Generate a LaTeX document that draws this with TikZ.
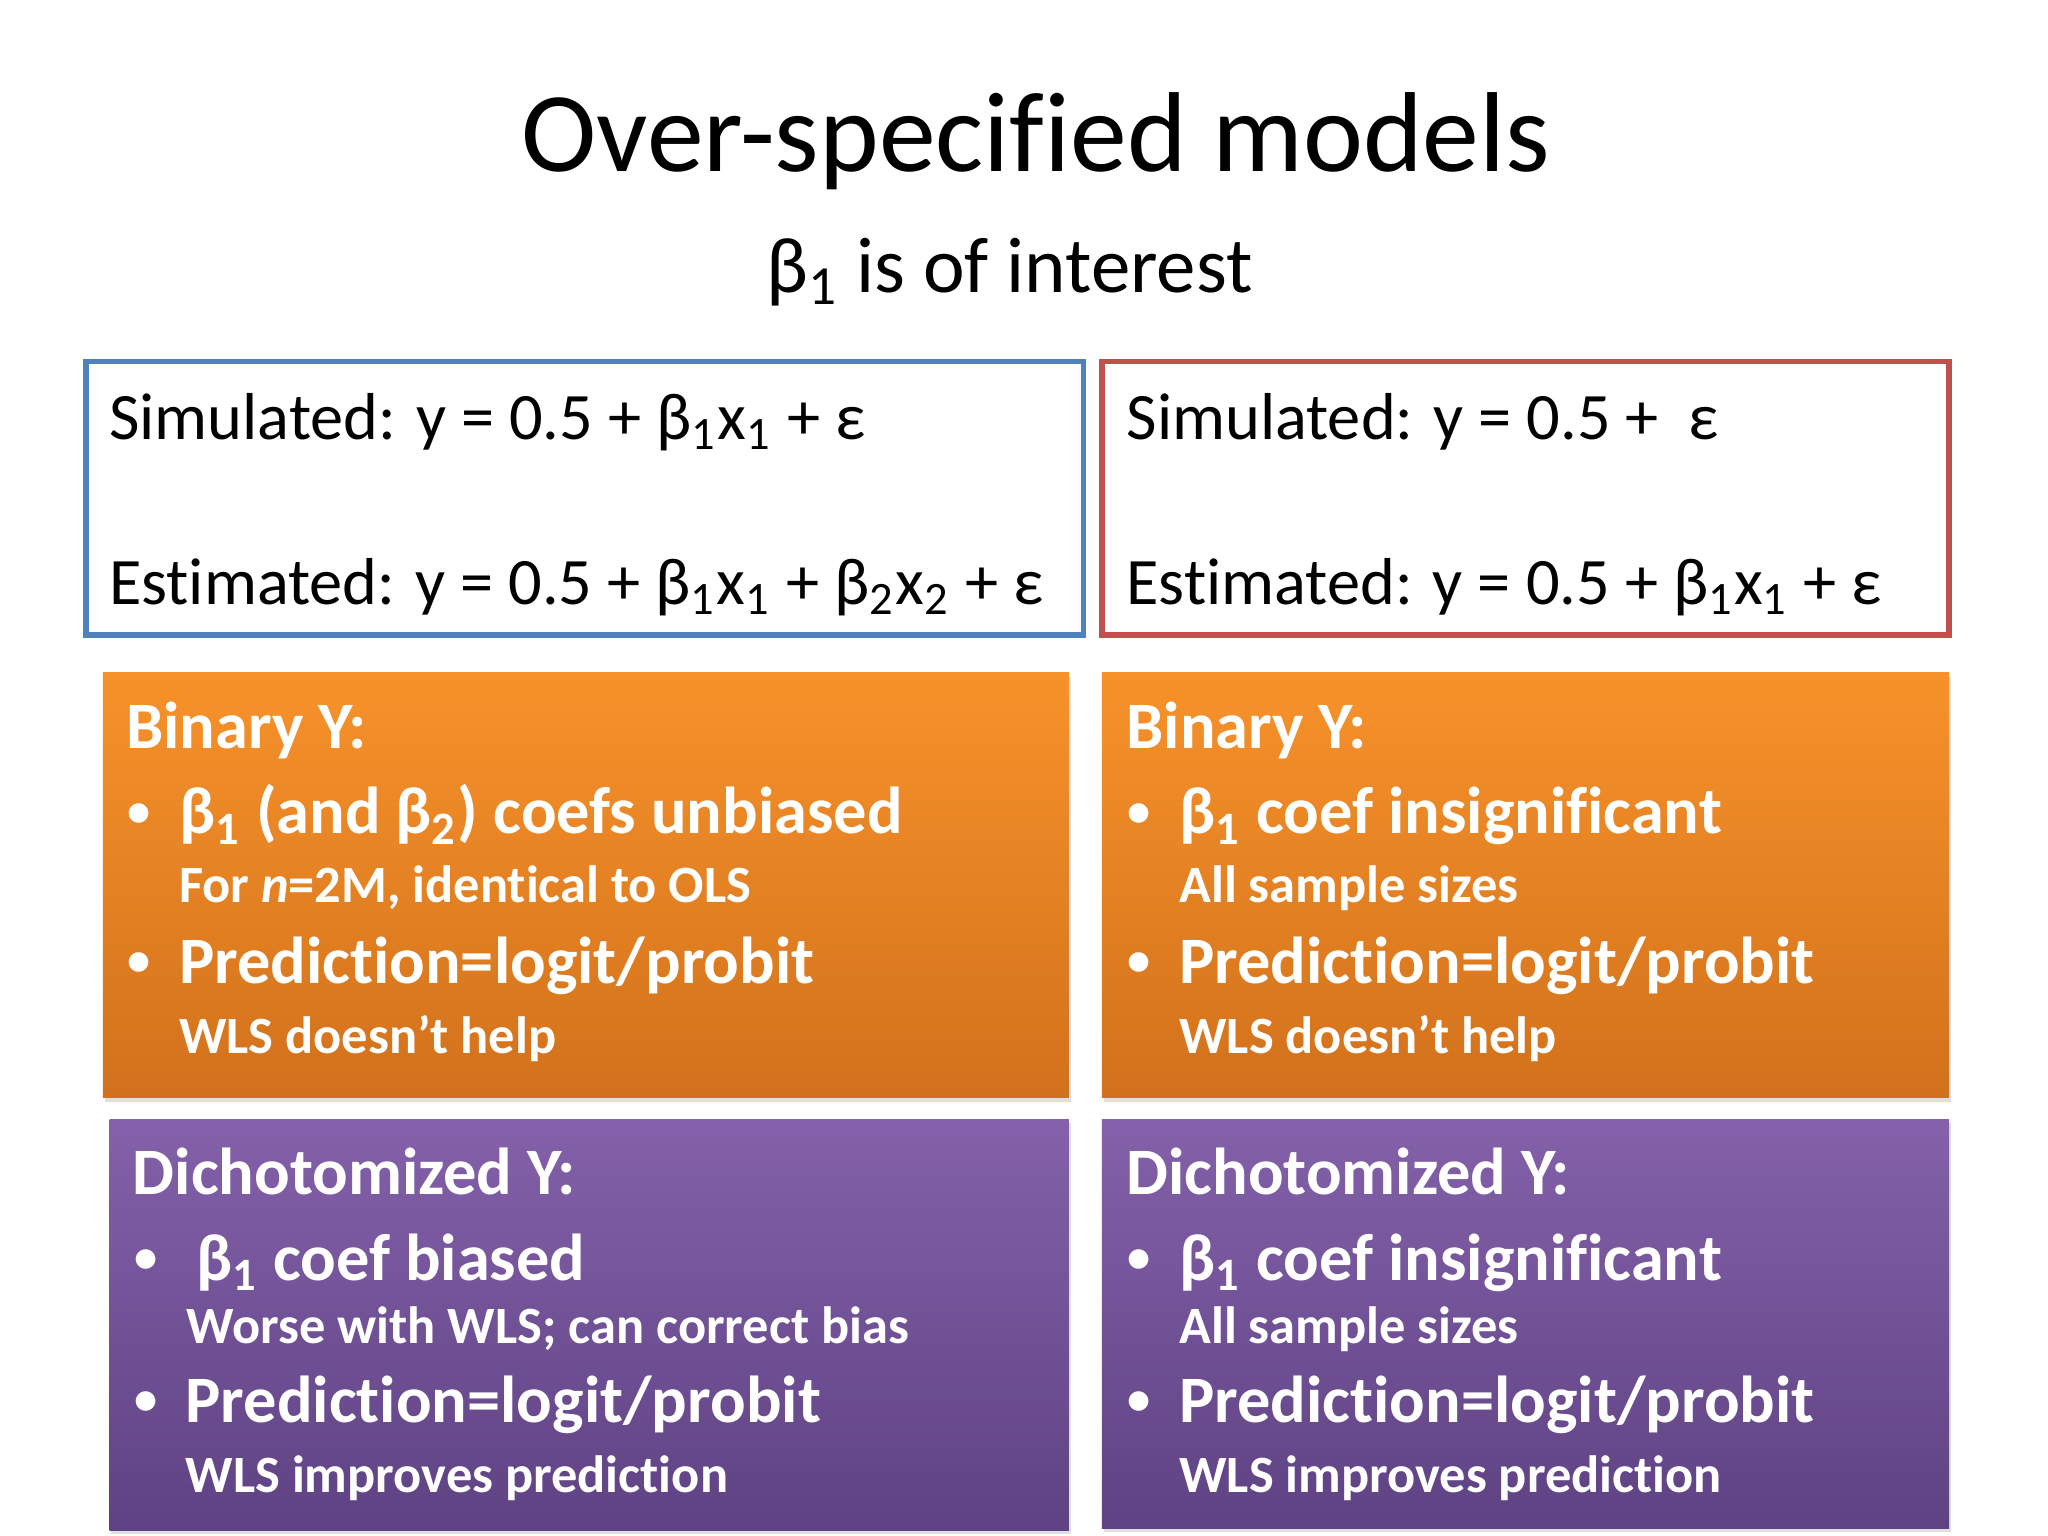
\documentclass[tikz,border=0pt]{standalone}
\usepackage{fontspec}
\setmainfont[Ligatures={NoCommon}]{Carlito}
\usetikzlibrary{shadows}
\definecolor{bluebd}{HTML}{4F81BD}
\definecolor{redbd}{HTML}{C0504D}
\definecolor{orT}{HTML}{F7922A}
\definecolor{orB}{HTML}{D2711C}
\definecolor{puT}{HTML}{8461AA}
\definecolor{puB}{HTML}{5E4283}
\newcommand{\sbx}[1]{\textsubscript{#1}}
\tikzset{
 px/.style={x=0.01cm,y=-0.01cm},
 txt/.style={anchor=base west,inner sep=0pt,font=\fontsize{14.3}{17}\selectfont},
 head/.style={anchor=base west,inner sep=0pt,text=white,font=\fontsize{14.3}{17}\selectfont\bfseries},
 bul/.style={anchor=base west,inner sep=0pt,text=white,font=\fontsize{10}{12}\selectfont\bfseries},
 small/.style={anchor=base west,inner sep=0pt,text=white,font=\fontsize{11.3}{14}\selectfont\bfseries},
 orbox/.style={top color=orT,bottom color=orB,draw=none,drop shadow={opacity=0.25,shadow xshift=0.4pt,shadow yshift=-0.8pt}},
 pubox/.style={top color=puT,bottom color=puB,draw=none,drop shadow={opacity=0.25,shadow xshift=0.4pt,shadow yshift=-0.8pt}},
}
\begin{document}
\begin{tikzpicture}[px]
\useasboundingbox (0,0) rectangle (1552,1164);
\fill[white] (0,0) rectangle (1552,1164);
\node (title) [anchor=base,inner sep=0pt,font=\fontsize{24.5}{30}\selectfont] at (785,130) {Over-specified models};
\node (sub) [anchor=base,inner sep=0pt,font=\fontsize{17}{22}\selectfont] at (765,222) {β\sbx{1} is of interest};
% top boxes
\draw[bluebd,line width=1.2pt] (65,274) rectangle (821,481);
\draw[redbd,line width=1.2pt] (835,274) rectangle (1477,481);
\node (s1) [txt] at (82,333) {Simulated: y = 0.5 + β\sbx{1}x\sbx{1} + ε};
\node (e1) [txt] at (82,458) {Estimated: y = 0.5 + β\sbx{1}x\sbx{1} + β\sbx{2}x\sbx{2} + ε};
\node (s2) [txt] at (853,333) {Simulated: y = 0.5 + \ ε};
\node (e2) [txt] at (853,458) {Estimated: y = 0.5 + β\sbx{1}x\sbx{1} + ε};
% orange
\path[orbox] (78,510) rectangle (810,832);
\path[orbox] (835,510) rectangle (1477,832);
\node (bl) [head] at (95,567) {Binary Y:};
\node [bul] at (96,626) {•};
\node [head] at (135,632) {β\sbx{1} (and β\sbx{2}) coefs unbiased};
\node [small] at (135,684) {For \textit{n}=2M, identical to OLS};
\node [bul] at (96,739) {•};
\node [head] at (135,745) {Prediction=logit/probit};
\node [small] at (135,798) {WLS doesn’t help};
\node (br) [head] at (853,567) {Binary Y:};
\node [bul] at (854,626) {•};
\node [head] at (893,632) {β\sbx{1} coef insignificant};
\node [small] at (893,684) {All sample sizes};
\node [bul] at (854,739) {•};
\node [head] at (893,745) {Prediction=logit/probit};
\node [small] at (893,798) {WLS doesn’t help};
% purple
\path[pubox] (83,848) rectangle (810,1160);
\path[pubox] (835,848) rectangle (1477,1158);
\node (dl) [head] at (100,905) {Dichotomized Y:};
\node [bul] at (101,964) {•};
\node [head] at (148,970) {β\sbx{1} coef biased};
\node [small] at (141,1018) {Worse with WLS; can correct bias};
\node [bul] at (101,1072) {•};
\node [head] at (140,1078) {Prediction=logit/probit};
\node [small] at (140,1131) {WLS improves prediction};
\node (dr) [head] at (853,905) {Dichotomized Y:};
\node [bul] at (854,964) {•};
\node [head] at (893,970) {β\sbx{1} coef insignificant};
\node [small] at (893,1018) {All sample sizes};
\node [bul] at (854,1072) {•};
\node [head] at (893,1078) {Prediction=logit/probit};
\node [small] at (893,1131) {WLS improves prediction};
\end{tikzpicture}
\end{document}
